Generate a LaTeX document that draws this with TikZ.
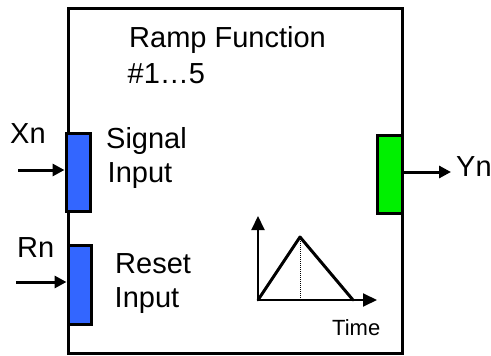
\documentclass[tikz,border=0pt]{standalone}
\usepackage{fontspec}
\setmainfont{Liberation Sans}
\usetikzlibrary{arrows.meta}
\definecolor{portblue}{RGB}{51,102,255}
\definecolor{portgreen}{RGB}{0,240,0}
\tikzset{
  lbl/.style={inner sep=0pt, anchor=base west, font=\fontsize{29}{34}\selectfont},
  small/.style={inner sep=0pt, anchor=base west, font=\fontsize{22}{26}\selectfont},
  port/.style={draw=black, line width=3pt},
  wire/.style={line width=3pt, -{Triangle[length=12pt,width=12pt]}},
}
\begin{document}
\begin{tikzpicture}[x=1pt,y=-1pt]
\useasboundingbox (0,0) rectangle (491,356);
% main block
\draw[line width=3pt] (68,8) rectangle (402,353);
% ports
\node[port, fill=portblue, minimum width=24pt, minimum height=78pt, inner sep=0pt] (sig) at (78,172) {};
\node[port, fill=portblue, minimum width=23pt, minimum height=79pt, inner sep=0pt] (rst) at (79.5,284.5) {};
\node[port, fill=portgreen, minimum width=25pt, minimum height=78pt, inner sep=0pt] (out) at (389.5,174) {};
% connector ends
\coordinate (xin) at (18,170);
\coordinate (rin) at (16,282);
\coordinate (yout) at (451,172);
\draw[wire] (xin) -- (sig.west |- xin);
\draw[wire] (rin) -- (rst.west |- rin);
\draw[wire] (out.east |- yout) -- (yout);
% labels
\node[lbl] (xn) at (10,143) {Xn};
\node[lbl] (rn) at (17,257) {Rn};
\node[lbl] (yn) at (456,176) {Yn};
\node[lbl] (t1) at (129,48) {Ramp Function};
\node[lbl] (t2) at (127.5,83) {\#1…5};
\node[lbl] (s1) at (106,148) {Signal};
\node[lbl] (s2) at (107.5,182) {Input};
\node[lbl] (r1) at (115,273) {Reset};
\node[lbl] (r2) at (114.5,307) {Input};
% ramp graph
\coordinate (o) at (258,300);
\coordinate (ytop) at (258,216);
\coordinate (xend) at (377,300);
\coordinate (pk) at (300,237);
\coordinate (pkb) at (300,300);
\coordinate (en) at (353,300);
\draw[line width=2pt, -{Triangle[length=14pt,width=13pt]}] (o) -- (ytop);
\draw[line width=2pt, -{Triangle[length=14pt,width=13pt]}] (o) -- (xend);
\draw[line width=1pt, densely dotted] (pk) -- (pkb);
\draw[line width=3pt, line join=round, line cap=round] (o) -- (pk) -- (en);
\node[small] (time) at (332,335) {Time};
\end{tikzpicture}
\end{document}
